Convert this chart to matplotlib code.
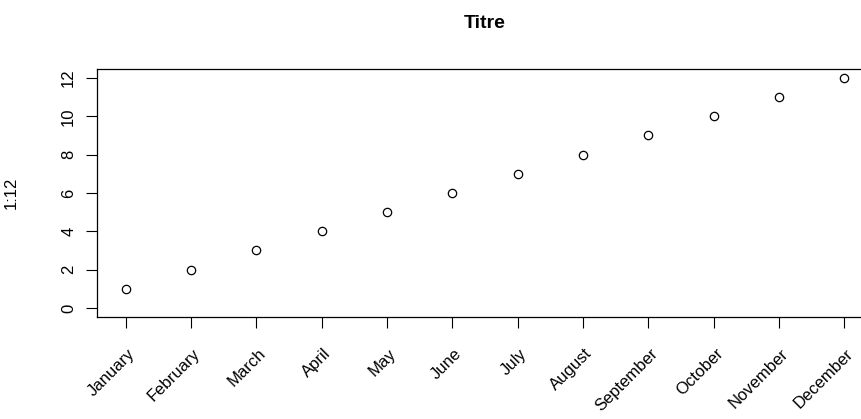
import numpy as np
import matplotlib
matplotlib.use("Agg")
import matplotlib.pyplot as plt
from matplotlib.transforms import ScaledTranslation

plt.rcParams['font.family'] = ['Liberation Sans', 'DejaVu Sans']

months = ["January", "February", "March", "April", "May", "June", "July",
          "August", "September", "October", "November", "December"]
x_pos = list(range(1, 13))
values = list(range(1, 13))
y_ticks = [0, 2, 4, 6, 8, 10, 12]

W, H = 862, 419
fig = plt.figure(figsize=(W / 100, H / 100), dpi=100)
# plot region in pixels (right edge runs past the image, as in the source)
left, right, top, bottom = 97, 873, 68.8, 317.2
ax = fig.add_axes([left / W, 1 - bottom / H, (right - left) / W, (bottom - top) / H])

ax.plot(x_pos, values, linestyle='none', marker='o', markersize=6,
        markerfacecolor='none', markeredgecolor='black', markeredgewidth=0.9)

ax.set_xlim(0.56, 12.44)
ax.set_ylim(-0.48, 12.48)

ax.set_yticks(y_ticks)
ax.set_yticklabels([str(v) for v in y_ticks], rotation=90, va='center', fontsize=12)
ax.set_xticks(x_pos)
ax.set_xticklabels(months, rotation=45, ha='right', rotation_mode='anchor',
                   va='center', fontsize=12)
ax.tick_params(axis='both', direction='out', length=8, width=0.8, colors='black')
ax.tick_params(axis='x', pad=16.5)
ax.tick_params(axis='y', pad=7)

# shift the slanted month labels a little to the right
shift = ScaledTranslation(0.07, 0, fig.dpi_scale_trans)
for lab in ax.get_xticklabels():
    lab.set_transform(lab.get_transform() + shift)

for s in ax.spines.values():
    s.set_linewidth(0.9)

ax.set_ylabel("1:12", fontsize=12)
ax.yaxis.set_label_coords((19 - left) / (right - left), 0.5)
ax.set_title("Titre", fontsize=14, fontweight='bold', pad=29.5)

fig.savefig("out.png", dpi=100)
